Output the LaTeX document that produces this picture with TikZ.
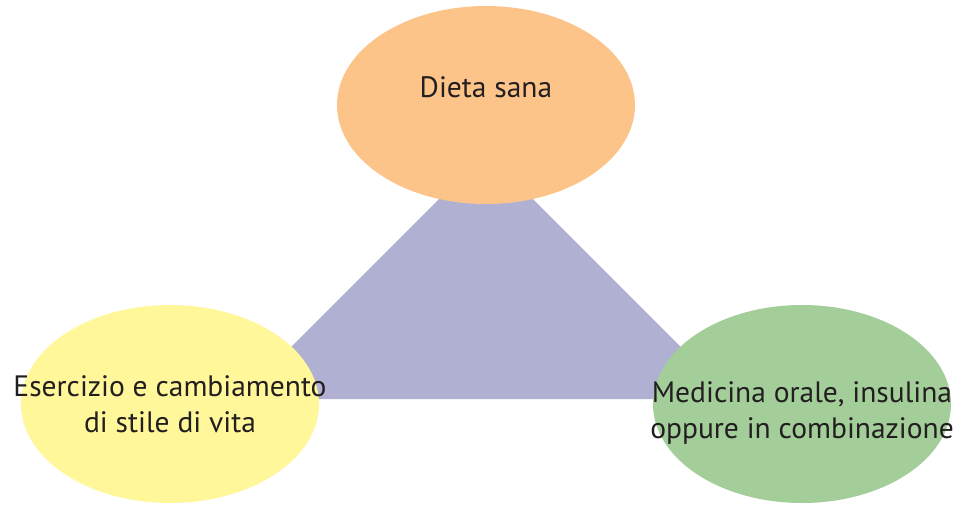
\documentclass[tikz,border=0pt]{standalone}
\usepackage{fontspec}
\setmainfont{PT Sans}
\usetikzlibrary{shapes.geometric}
\definecolor{orangeF}{RGB}{253,196,138}
\definecolor{purpleF}{RGB}{176,176,210}
\definecolor{yellowF}{RGB}{255,247,153}
\definecolor{greenF}{RGB}{163,205,153}
\definecolor{txt}{RGB}{35,31,32}
\begin{document}
\begin{tikzpicture}[x=1pt,y=-1pt,
  blob/.style={ellipse,inner sep=0pt,minimum width=298pt,minimum height=198pt},
  lbl/.style={text=txt,font=\fontsize{29.5}{36}\selectfont,align=center,inner sep=0pt}]
\useasboundingbox (0,0) rectangle (962,504);
\coordinate (tl) at (239,399);
\coordinate (tr) at (733,399);
\coordinate (tt) at (486,152);
\fill[purpleF] (tl) -- (tt) -- (tr) -- cycle;
\node[blob,fill=orangeF] (diet) at (486,105) {};
\node[blob,fill=yellowF] (eser) at (170,404) {};
\node[blob,fill=greenF] (medi) at (802,404) {};
\node[lbl,anchor=base] (tdiet) at (486,97) {Dieta sana};
\node[lbl,anchor=base] (teser1) at (170,396) {Esercizio e cambiamento};
\node[lbl,anchor=base] (teser2) at (170,432) {di stile di vita};
\node[lbl,anchor=base] (tmedi1) at (802,402) {Medicina orale, insulina};
\node[lbl,anchor=base] (tmedi2) at (802,438) {oppure in combinazione};
\end{tikzpicture}
\end{document}
